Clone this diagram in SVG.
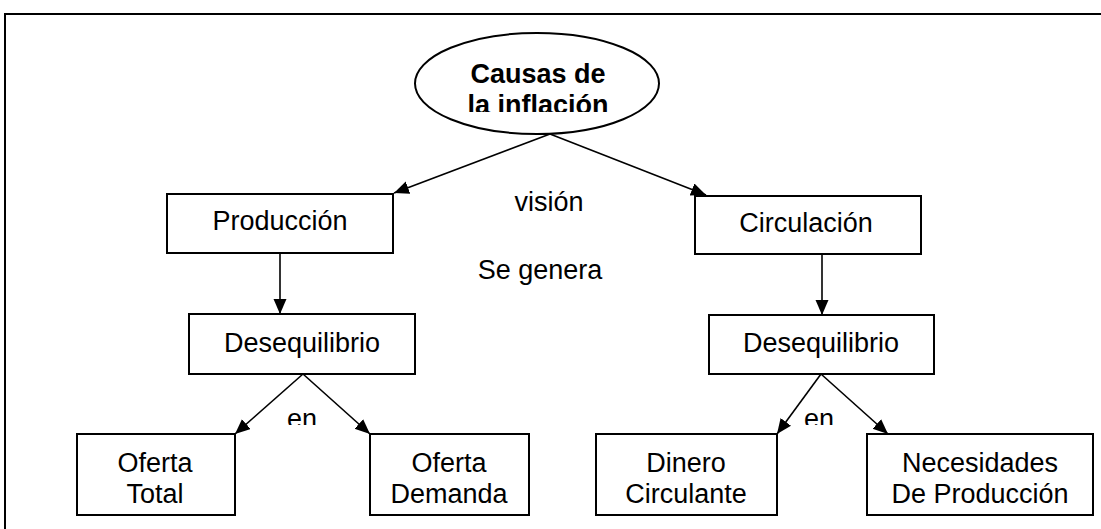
<svg xmlns="http://www.w3.org/2000/svg" width="1101" height="529" viewBox="0 0 1101 529">
<style>
.box{fill:#fff;stroke:#000;stroke-width:2}
.t{font-family:"Liberation Sans",Arial,sans-serif;font-size:27px;fill:#000;text-anchor:middle}
.b{font-weight:bold}
.c{stroke:#000;stroke-width:1.6;fill:none}
</style>
<defs>
<marker id="ah" markerUnits="userSpaceOnUse" markerWidth="16" markerHeight="14" refX="15" refY="6.5" orient="auto">
<path d="M0,0 L15,6.5 L0,13 z" fill="#000"/>
</marker>
<clipPath id="clipTop"><rect x="400" y="40" width="280" height="72"/></clipPath>
<clipPath id="clipEnL"><rect x="270" y="395" width="70" height="30"/></clipPath>
<clipPath id="clipEnR"><rect x="790" y="395" width="70" height="30"/></clipPath>
</defs>
<rect x="5" y="14" width="1120" height="540" fill="none" stroke="#000" stroke-width="2"/>
<g id="connectors">
<line class="c" x1="550" y1="134" x2="394" y2="193" marker-end="url(#ah)"/>
<line class="c" x1="550" y1="134" x2="706" y2="195" marker-end="url(#ah)"/>
<line class="c" x1="280" y1="253" x2="280" y2="314" marker-end="url(#ah)"/>
<line class="c" x1="822" y1="254" x2="822" y2="315" marker-end="url(#ah)"/>
<line class="c" x1="303" y1="374" x2="235" y2="434" marker-end="url(#ah)"/>
<line class="c" x1="303" y1="374" x2="370" y2="434" marker-end="url(#ah)"/>
<line class="c" x1="821" y1="374" x2="777" y2="434" marker-end="url(#ah)"/>
<line class="c" x1="821" y1="374" x2="888" y2="434" marker-end="url(#ah)"/>
</g>
<g id="causas">
<ellipse class="box" cx="537" cy="83.5" rx="122" ry="50.5"/>
<g clip-path="url(#clipTop)">
<text class="t b" x="538" y="83">Causas de</text>
<text class="t b" x="538" y="114">la inflación</text>
</g>
</g>
<g id="label-vision"><text class="t" x="549" y="211">visión</text></g>
<g id="label-segenera"><text class="t" x="540" y="279">Se genera</text></g>
<g id="label-en-left" clip-path="url(#clipEnL)"><text class="t" x="302" y="428">en</text></g>
<g id="label-en-right" clip-path="url(#clipEnR)"><text class="t" x="819" y="428">en</text></g>
<g id="produccion">
<rect class="box" x="167" y="194" width="226" height="59"/>
<text class="t" x="280" y="230">Producción</text>
</g>
<g id="circulacion">
<rect class="box" x="695" y="196" width="226" height="58"/>
<text class="t" x="806" y="232">Circulación</text>
</g>
<g id="desequilibrio-left">
<rect class="box" x="189" y="314" width="226" height="60"/>
<text class="t" x="302" y="352">Desequilibrio</text>
</g>
<g id="desequilibrio-right">
<rect class="box" x="709" y="315" width="225" height="59"/>
<text class="t" x="821" y="352">Desequilibrio</text>
</g>
<g id="oferta-total">
<rect class="box" x="77" y="434" width="158" height="81"/>
<text class="t" x="155" y="472">Oferta</text>
<text class="t" x="155" y="503">Total</text>
</g>
<g id="oferta-demanda">
<rect class="box" x="370" y="434" width="159" height="81"/>
<text class="t" x="449" y="472">Oferta</text>
<text class="t" x="449" y="503">Demanda</text>
</g>
<g id="dinero">
<rect class="box" x="596" y="434" width="181" height="81"/>
<text class="t" x="686" y="472">Dinero</text>
<text class="t" x="686" y="503">Circulante</text>
</g>
<g id="necesidades">
<rect class="box" x="867" y="434" width="226" height="81"/>
<text class="t" x="980" y="472">Necesidades</text>
<text class="t" x="980" y="503">De Producción</text>
</g>
</svg>
